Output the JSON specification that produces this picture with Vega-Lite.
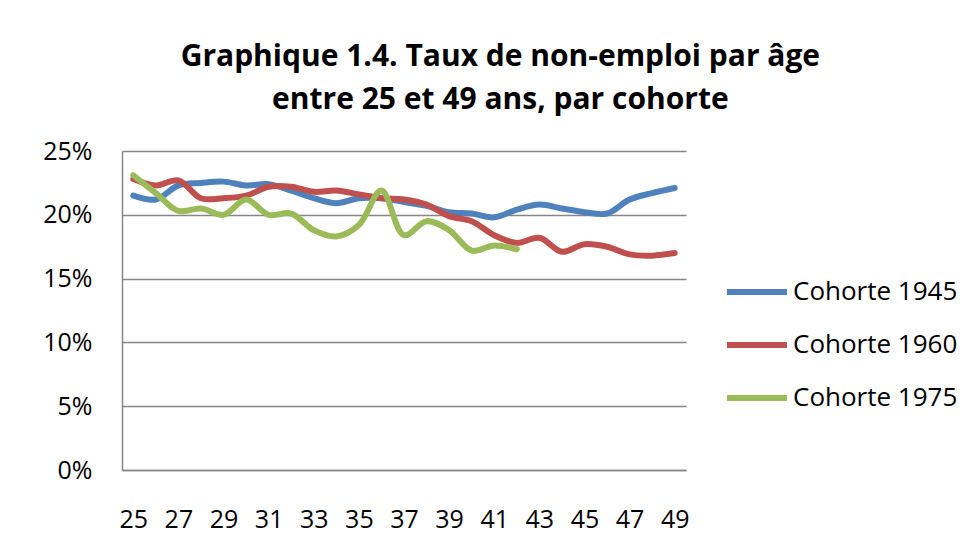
{
  "$schema": "https://vega.github.io/schema/vega-lite/v6.json",
  "width": 564,
  "height": 319,
  "autosize": {"type": "none"},
  "padding": {"left": 122, "top": 151, "right": 292, "bottom": 90},
  "background": "white",
  "title": {
    "text": ["Graphique 1.4. Taux de non-emploi par âge", "entre 25 et 49 ans, par cohorte"],
    "font": "Open Sans",
    "fontSize": 30,
    "fontWeight": "bold",
    "color": "black",
    "anchor": "middle",
    "frame": "bounds",
    "lineHeight": 43,
    "offset": 24
  },
  "config": {
    "view": {"stroke": null},
    "axis": {
      "labelFont": "Open Sans",
      "labelFontSize": 25,
      "labelColor": "black",
      "domainColor": "#868686",
      "domainWidth": 1.5,
      "gridColor": "#868686",
      "gridWidth": 1.5,
      "ticks": false,
      "title": null
    },
    "legend": {
      "labelFont": "Open Sans",
      "labelFontSize": 26,
      "labelColor": "black",
      "labelLimit": 400
    }
  },
  "data": {
    "values": [
      {"age": 25, "cohorte": "Cohorte 1945", "v": 0.215},
      {"age": 26, "cohorte": "Cohorte 1945", "v": 0.212},
      {"age": 27, "cohorte": "Cohorte 1945", "v": 0.223},
      {"age": 28, "cohorte": "Cohorte 1945", "v": 0.225},
      {"age": 29, "cohorte": "Cohorte 1945", "v": 0.226},
      {"age": 30, "cohorte": "Cohorte 1945", "v": 0.223},
      {"age": 31, "cohorte": "Cohorte 1945", "v": 0.224},
      {"age": 32, "cohorte": "Cohorte 1945", "v": 0.219},
      {"age": 33, "cohorte": "Cohorte 1945", "v": 0.213},
      {"age": 34, "cohorte": "Cohorte 1945", "v": 0.209},
      {"age": 35, "cohorte": "Cohorte 1945", "v": 0.213},
      {"age": 36, "cohorte": "Cohorte 1945", "v": 0.213},
      {"age": 37, "cohorte": "Cohorte 1945", "v": 0.210},
      {"age": 38, "cohorte": "Cohorte 1945", "v": 0.207},
      {"age": 39, "cohorte": "Cohorte 1945", "v": 0.202},
      {"age": 40, "cohorte": "Cohorte 1945", "v": 0.201},
      {"age": 41, "cohorte": "Cohorte 1945", "v": 0.198},
      {"age": 42, "cohorte": "Cohorte 1945", "v": 0.204},
      {"age": 43, "cohorte": "Cohorte 1945", "v": 0.208},
      {"age": 44, "cohorte": "Cohorte 1945", "v": 0.205},
      {"age": 45, "cohorte": "Cohorte 1945", "v": 0.202},
      {"age": 46, "cohorte": "Cohorte 1945", "v": 0.201},
      {"age": 47, "cohorte": "Cohorte 1945", "v": 0.212},
      {"age": 48, "cohorte": "Cohorte 1945", "v": 0.217},
      {"age": 49, "cohorte": "Cohorte 1945", "v": 0.221},
      {"age": 25, "cohorte": "Cohorte 1960", "v": 0.228},
      {"age": 26, "cohorte": "Cohorte 1960", "v": 0.223},
      {"age": 27, "cohorte": "Cohorte 1960", "v": 0.227},
      {"age": 28, "cohorte": "Cohorte 1960", "v": 0.213},
      {"age": 29, "cohorte": "Cohorte 1960", "v": 0.213},
      {"age": 30, "cohorte": "Cohorte 1960", "v": 0.215},
      {"age": 31, "cohorte": "Cohorte 1960", "v": 0.222},
      {"age": 32, "cohorte": "Cohorte 1960", "v": 0.222},
      {"age": 33, "cohorte": "Cohorte 1960", "v": 0.218},
      {"age": 34, "cohorte": "Cohorte 1960", "v": 0.219},
      {"age": 35, "cohorte": "Cohorte 1960", "v": 0.216},
      {"age": 36, "cohorte": "Cohorte 1960", "v": 0.213},
      {"age": 37, "cohorte": "Cohorte 1960", "v": 0.212},
      {"age": 38, "cohorte": "Cohorte 1960", "v": 0.208},
      {"age": 39, "cohorte": "Cohorte 1960", "v": 0.199},
      {"age": 40, "cohorte": "Cohorte 1960", "v": 0.195},
      {"age": 41, "cohorte": "Cohorte 1960", "v": 0.184},
      {"age": 42, "cohorte": "Cohorte 1960", "v": 0.178},
      {"age": 43, "cohorte": "Cohorte 1960", "v": 0.182},
      {"age": 44, "cohorte": "Cohorte 1960", "v": 0.171},
      {"age": 45, "cohorte": "Cohorte 1960", "v": 0.177},
      {"age": 46, "cohorte": "Cohorte 1960", "v": 0.175},
      {"age": 47, "cohorte": "Cohorte 1960", "v": 0.169},
      {"age": 48, "cohorte": "Cohorte 1960", "v": 0.168},
      {"age": 49, "cohorte": "Cohorte 1960", "v": 0.170},
      {"age": 25, "cohorte": "Cohorte 1975", "v": 0.231},
      {"age": 26, "cohorte": "Cohorte 1975", "v": 0.217},
      {"age": 27, "cohorte": "Cohorte 1975", "v": 0.203},
      {"age": 28, "cohorte": "Cohorte 1975", "v": 0.205},
      {"age": 29, "cohorte": "Cohorte 1975", "v": 0.200},
      {"age": 30, "cohorte": "Cohorte 1975", "v": 0.212},
      {"age": 31, "cohorte": "Cohorte 1975", "v": 0.200},
      {"age": 32, "cohorte": "Cohorte 1975", "v": 0.201},
      {"age": 33, "cohorte": "Cohorte 1975", "v": 0.188},
      {"age": 34, "cohorte": "Cohorte 1975", "v": 0.183},
      {"age": 35, "cohorte": "Cohorte 1975", "v": 0.192},
      {"age": 36, "cohorte": "Cohorte 1975", "v": 0.219},
      {"age": 37, "cohorte": "Cohorte 1975", "v": 0.184},
      {"age": 38, "cohorte": "Cohorte 1975", "v": 0.195},
      {"age": 39, "cohorte": "Cohorte 1975", "v": 0.188},
      {"age": 40, "cohorte": "Cohorte 1975", "v": 0.172},
      {"age": 41, "cohorte": "Cohorte 1975", "v": 0.176},
      {"age": 42, "cohorte": "Cohorte 1975", "v": 0.173}
    ]
  },
  "mark": {"type": "line", "interpolate": "catmull-rom", "strokeWidth": 6, "strokeCap": "round"},
  "encoding": {
    "x": {
      "field": "age",
      "type": "ordinal",
      "scale": {"type": "point", "padding": 0.5},
      "axis": {"values": [25, 27, 29, 31, 33, 35, 37, 39, 41, 43, 45, 47, 49], "labelAngle": 0, "labelPadding": 37, "grid": false, "domain": true}
    },
    "y": {
      "field": "v",
      "type": "quantitative",
      "scale": {"domain": [0, 0.25], "nice": false},
      "axis": {"values": [0, 0.05, 0.1, 0.15, 0.2, 0.25], "format": ".0%", "labelPadding": 30, "grid": true, "domain": true}
    },
    "color": {
      "field": "cohorte",
      "type": "nominal",
      "scale": {"domain": ["Cohorte 1945", "Cohorte 1960", "Cohorte 1975"], "range": ["#4F81BD", "#C0504D", "#9BBB59"]},
      "legend": {
        "title": null,
        "orient": "none",
        "legendX": 602,
        "legendY": 108,
        "symbolType": "stroke",
        "symbolSize": 3600,
        "symbolStrokeWidth": 6,
        "labelOffset": 3,
        "rowPadding": 7,
        "padding": 0
      }
    }
  }
}
